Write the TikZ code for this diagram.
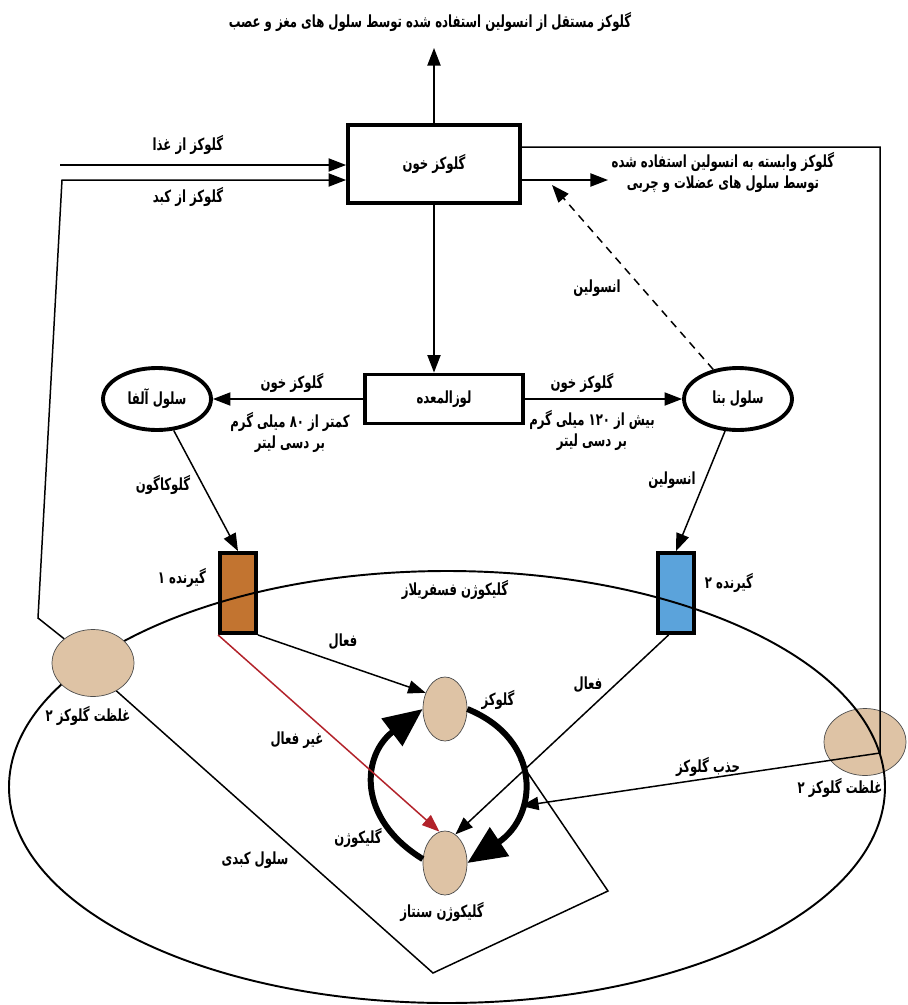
\documentclass[tikz,border=0pt]{standalone}
\usepackage{fontspec}
\usepackage{xcolor}
\usetikzlibrary{arrows.meta, shapes.geometric}
\newfontfamily\persianfont[Script=Arabic, FakeStretch=0.7]{DejaVu Sans}
\TeXXeTstate=1
\newcommand{\fatext}[1]{\beginR #1\endR}
\definecolor{recOne}{RGB}{194, 116, 48}
\definecolor{recTwo}{RGB}{91, 163, 219}
\definecolor{glutTan}{RGB}{222, 195, 165}
\definecolor{inactRed}{RGB}{178, 34, 42}

\begin{document}
\begin{tikzpicture}[x=0.02cm, y=-0.02cm, font=\persianfont\bfseries\fontsize{9.5}{12}\selectfont]
                    \tikzstyle{box} = [rectangle, draw, line width=2.2pt, fill=white]
                    \tikzstyle{cell} = [ellipse, draw, line width=2.2pt, minimum width=2.16cm, minimum height=1.24cm]
                    \tikzstyle{recp} = [rectangle, draw, line width=2.2pt, minimum width=0.72cm, minimum height=1.6cm]
                    \tikzstyle{glut} = [ellipse, draw=black!70, fill=glutTan, minimum width=1.64cm, minimum height=1.34cm]
                    \tikzstyle{enz} = [ellipse, draw=black!70, fill=glutTan, minimum width=0.88cm, minimum height=1.28cm]
                    \tikzstyle{lbl} = [inner sep=1pt, align=center]
                    \tikzstyle{arrow} = [-{Triangle[length=10pt, width=7.5pt]}, line width=0.85pt]
                    \tikzstyle{cycle} = [-{Triangle[length=22pt, width=19pt]}, line width=3.4pt]

                    \useasboundingbox (0, 0) rectangle (907, 1005);

                    \node[box, minimum width=3.44cm, minimum height=1.56cm] (blood) at (434, 164) {\fatext{گلوکز خون}};
                    \node[box, minimum width=3.16cm, minimum height=0.98cm] (panc) at (444, 399) {\fatext{لوزالمعده}};
                    \node[cell] (alpha) at (157, 399) {\fatext{سلول آلفا}};
                    \node[cell] (beta) at (738, 399) {\fatext{سلول بتا}};
                    \node[recp, fill=recOne] (rec1) at (238, 593) {};
                    \node[recp, fill=recTwo] (rec2) at (676, 593) {};
                    \node[glut] (rglut) at (865, 742) {};
                    \draw[line width=1.1pt] (447, 787) ellipse [x radius=438, y radius=216];
                    \node[glut] (lglut) at (93, 663) {};
                    \node[enz] (gluc) at (445, 709) {};
                    \node[enz] (gsyn) at (445, 863) {};

                    \node[lbl] (topt) at (430, 22) {\fatext{گلوکز مستقل از انسولین استفاده شده توسط سلول های مغز و عصب}};
                    \node[lbl] (food) at (188, 145) {\fatext{گلوکز از غذا}};
                    \node[lbl] (liver) at (188, 197) {\fatext{گلوکز از کبد}};
                    \node[lbl] (musc) at (723, 172) {\fatext{گلوکز وابسته به انسولین استفاده شده}\\\fatext{توسط سلول های عضلات و چربی}};
                    \node[lbl] (insa) at (597, 288) {\fatext{انسولین}};
                    \node[lbl] (lowa) at (292, 383) {\fatext{گلوکز خون}};
                    \node[lbl] (lowb) at (290, 432) {\fatext{کمتر از ۸۰ میلی گرم}\\\fatext{بر دسی لیتر}};
                    \node[lbl] (higha) at (582, 383) {\fatext{گلوکز خون}};
                    \node[lbl] (highb) at (592, 430) {\fatext{بیش از ۱۲۰ میلی گرم}\\\fatext{بر دسی لیتر}};
                    \node[lbl] (glcg) at (163, 485) {\fatext{گلوکاگون}};
                    \node[lbl] (insb) at (672, 480) {\fatext{انسولین}};
                    \node[lbl] (rec1t) at (182, 578) {\fatext{گیرنده ۱}};
                    \node[lbl] (rec2t) at (729, 583) {\fatext{گیرنده ۲}};
                    \node[lbl] (phos) at (455, 590) {\fatext{گلیکوژن فسفریلاز}};
                    \node[lbl] (act1) at (343, 642) {\fatext{فعال}};
                    \node[lbl] (act2) at (588, 685) {\fatext{فعال}};
                    \node[lbl] (inact) at (297, 740) {\fatext{غیر فعال}};
                    \node[lbl] (lgt) at (88, 716) {\fatext{غلظت گلوکز ۲}};
                    \node[lbl] (rgt) at (840, 788) {\fatext{غلظت گلوکز ۲}};
                    \node[lbl] (upt) at (708, 767) {\fatext{جذب گلوکز}};
                    \node[lbl] (glct) at (498, 700) {\fatext{گلوکز}};
                    \node[lbl] (glyt) at (358, 838) {\fatext{گلیکوژن}};
                    \node[lbl] (gsyt) at (442, 912) {\fatext{گلیکوژن سنتاز}};
                    \node[lbl] (hept) at (255, 860) {\fatext{سلول کبدی}};

                    \coordinate (topend) at (434, 48);
                    \coordinate (foodin) at (60, 165);
                    \coordinate (k1) at (38, 618);
                    \coordinate (k2) at (62, 180);
                    \coordinate (r1) at (880, 147);
                    \coordinate (r2) at (880, 753);
                    \coordinate (cin) at (521, 806);
                    \coordinate (outend) at (608, 180);
                    \coordinate (insend) at (552, 185);
                    \coordinate (pA) at (433, 973);
                    \coordinate (pB) at (608, 891);
                    \coordinate (pC) at (519, 760);

                    \draw[arrow] (blood.north) -- (topend);
                    \draw[arrow] (foodin) -- (foodin -| blood.west);
                    \draw[arrow] (lglut.140) -- (k1) -- (k2) -- (k2 -| blood.west);
                    \draw[arrow] (blood.east |- outend) -- (outend);
                    \draw[arrow] (blood.east |- r1) -- (r1) -- (r2) -- (cin);
                    \draw[arrow, dash pattern=on 4.5pt off 3.5pt] (beta.130) -- (insend);
                    \draw[arrow] (blood.south) -- (blood.south |- panc.north);
                    \draw[arrow] (panc.west) -- (alpha.east);
                    \draw[arrow] (panc.east) -- (beta.west);
                    \draw[arrow] (alpha.-62) -- (rec1.north);
                    \draw[arrow] (beta.-112) -- (rec2.north);
                    \draw[line width=0.85pt] (lglut.-50) -- (pA) -- (pB) -- (pC);
                    \draw[arrow] (rec1.south east) -- (gluc.140);
                    \draw[arrow] (rec2.-100) -- (gsyn.70);
                    \draw[cycle] (gsyn.170) .. controls (356, 818) and (362, 755) .. (gluc.west);
                    \draw[cycle] (gluc.east) .. controls (543, 740) and (538, 816) .. (gsyn.east);
                    \draw[arrow, inactRed] (rec1.south west) -- (gsyn.100);
                \end{tikzpicture}
\end{document}
